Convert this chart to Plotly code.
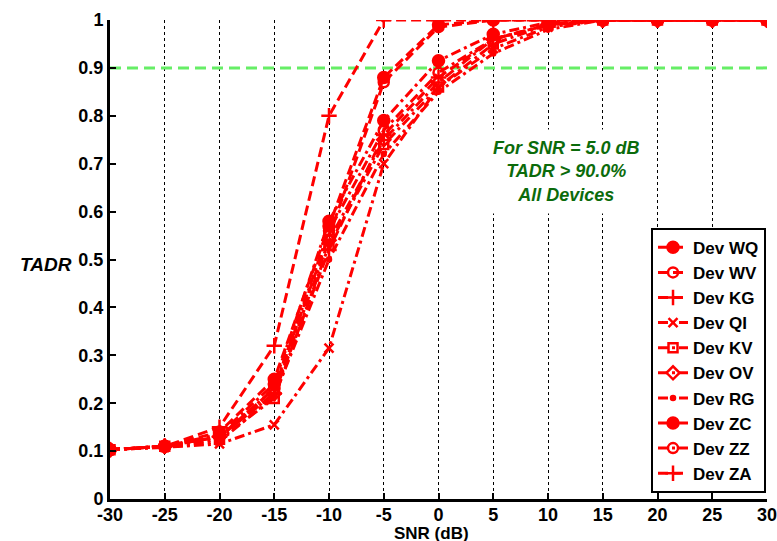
import plotly.graph_objects as go

snr = [-30, -25, -20, -15, -10, -5, 0, 5, 10, 15, 20, 25, 30]
devices = ["Dev WQ", "Dev WV", "Dev KG", "Dev QI", "Dev KV", "Dev OV", "Dev RG", "Dev ZC", "Dev ZZ", "Dev ZA"]
tadr_wq = [0.103, 0.110, 0.140, 0.250, 0.570, 0.880, 0.990, 1.0, 1.0, 1.0, 1.0, 1.0, 1.0]
tadr_wv = [0.103, 0.110, 0.130, 0.230, 0.550, 0.870, 0.985, 1.0, 1.0, 1.0, 1.0, 1.0, 1.0]
tadr_kg = [0.103, 0.110, 0.130, 0.220, 0.520, 0.760, 0.880, 0.960, 0.990, 1.0, 1.0, 1.0, 1.0]
tadr_qi = [0.103, 0.108, 0.115, 0.155, 0.315, 0.700, 0.860, 0.940, 0.985, 1.0, 1.0, 1.0, 1.0]
tadr_kv = [0.103, 0.110, 0.125, 0.210, 0.530, 0.740, 0.860, 0.950, 0.990, 1.0, 1.0, 1.0, 1.0]
tadr_ov = [0.103, 0.110, 0.130, 0.220, 0.540, 0.750, 0.870, 0.960, 0.990, 1.0, 1.0, 1.0, 1.0]
tadr_rg = [0.103, 0.108, 0.120, 0.215, 0.500, 0.720, 0.850, 0.930, 0.980, 1.0, 1.0, 1.0, 1.0]
tadr_zc = [0.103, 0.110, 0.135, 0.240, 0.580, 0.790, 0.915, 0.970, 0.995, 1.0, 1.0, 1.0, 1.0]
tadr_zz = [0.103, 0.110, 0.130, 0.230, 0.560, 0.770, 0.890, 0.960, 0.990, 1.0, 1.0, 1.0, 1.0]
tadr_za = [0.103, 0.110, 0.150, 0.320, 0.800, 1.0, 1.0, 1.0, 1.0, 1.0, 1.0, 1.0, 1.0]
series = [tadr_wq, tadr_wv, tadr_kg, tadr_qi, tadr_kv, tadr_ov, tadr_rg, tadr_zc, tadr_zz, tadr_za]
threshold = 0.9
x_ticks = [-30, -25, -20, -15, -10, -5, 0, 5, 10, 15, 20, 25, 30]
y_ticks = [0, 0.1, 0.2, 0.3, 0.4, 0.5, 0.6, 0.7, 0.8, 0.9, 1]
y_ticklabels = ["0", "0.1", "0.2", "0.3", "0.4", "0.5", "0.6", "0.7", "0.8", "0.9", "1"]

symbols = ["circle", "circle-open", "cross-thin", "x-thin", "square-open", "diamond-open",
           "circle", "circle", "circle-open", "cross-thin"]
sizes = [11, 10, 11, 9, 9, 10, 4, 11, 10, 11]
DASH = "10px,5px"
DASHDOT = "10px,4px,3px,4px"
dashes = [DASH, DASH, DASH, DASHDOT, DASHDOT, DASHDOT, DASHDOT, DASHDOT, DASHDOT, DASH]

RED = "#ff0000"
FAM = "Liberation Sans, Arial"
fig = go.Figure()

fig.add_trace(go.Scatter(x=[snr[0], snr[-1]], y=[threshold, threshold], mode="lines",
                         line=dict(color="#66ee66", width=3, dash="11px,6px"),
                         showlegend=False, hoverinfo="skip"))

for name, ys, sym, sz, dsh in zip(devices, series, symbols, sizes, dashes):
    fig.add_trace(go.Scatter(
        x=snr, y=ys, mode="lines+markers", name="<b>" + name + "</b>",
        line=dict(color=RED, width=3, dash=dsh),
        marker=dict(symbol=sym, size=sz, color=RED, line=dict(color=RED, width=2.5)),
    ))

fig.update_layout(
    width=777, height=541,
    margin=dict(l=110, r=10, t=20, b=42, autoexpand=False),
    paper_bgcolor="white", plot_bgcolor="white",
    font=dict(family=FAM, size=16, color="black"),
    showlegend=True,
    legend=dict(
        x=0.9985, xanchor="right", y=0.013, yanchor="bottom",
        bgcolor="white", bordercolor="black", borderwidth=2,
        font=dict(family=FAM, size=17, color="black"),
        tracegroupgap=0, itemwidth=30,
    ),
    xaxis=dict(
        range=[-30, 30], tickvals=x_ticks, ticktext=["<b>%d</b>" % v for v in x_ticks],
        showgrid=True, gridcolor="black", griddash="dot", gridwidth=1,
        showline=True, linecolor="black", linewidth=3, mirror=False,
        ticks="inside", ticklen=6, tickwidth=2, tickcolor="black",
        tickfont=dict(family=FAM, size=18, color="black"),
        ticklabeloverflow="allow", ticklabelstandoff=-3,
        zeroline=False, automargin=False,
    ),
    yaxis=dict(
        range=[0, 1], tickvals=y_ticks, ticktext=["<b>%s</b>" % t for t in y_ticklabels],
        showgrid=False,
        showline=True, linecolor="black", linewidth=3, mirror=False,
        ticks="inside", ticklen=6, tickwidth=2, tickcolor="black",
        tickfont=dict(family=FAM, size=18, color="black"),
        zeroline=False, automargin=False,
    ),
)

fig.add_annotation(
    x=11.7, y=0.683, xref="x", yref="y",
    text="<b><i>For SNR = 5.0 dB<br>TADR > 90.0%<br>All Devices</i></b>",
    showarrow=False, align="center",
    font=dict(family=FAM, size=18, color="#0b6b0b"),
    bgcolor="white", borderpad=8,
)
fig.add_annotation(
    x=-0.098, y=0.49, xref="paper", yref="paper",
    text="<b><i>TADR</i></b>", showarrow=False, xanchor="center", yanchor="middle",
    font=dict(family=FAM, size=19, color="black"),
)
fig.add_annotation(
    x=0.49, y=-0.072, xref="paper", yref="paper",
    text="<b>SNR (dB)</b>", showarrow=False, xanchor="center", yanchor="middle",
    font=dict(family=FAM, size=17, color="black"),
)

fig.write_html("out.html")
